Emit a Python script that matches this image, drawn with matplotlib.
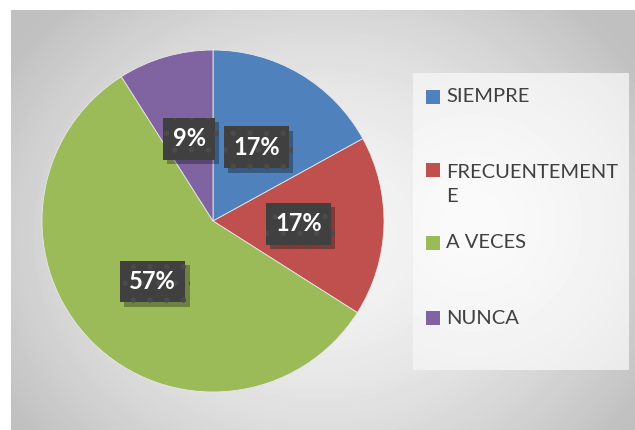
import numpy as np
import matplotlib
matplotlib.use('Agg')
from matplotlib import pyplot as plt
from matplotlib import patheffects as pe
from matplotlib.patches import Rectangle

# data
labels = ['SIEMPRE', 'FRECUENTEMENT\nE', 'A VECES', 'NUNCA']
values = [17, 17, 57, 9]
colors = ['#4F81BD', '#C0504D', '#9BBB59', '#8064A2']

W, H = 635, 430
fig = plt.figure(figsize=(W / 100, H / 100), dpi=100)
fig.patch.set_facecolor('white')

# gray panel with radial gradient
px0, py0 = 11, 10
pw, ph = W - px0, H - py0
yy, xx = np.mgrid[0:ph, 0:pw]
d = np.sqrt(((xx - 310) / 360.0) ** 2 + ((yy - 225) / 300.0) ** 2)
img = np.clip(246 - 50 * d ** 1.6, 192, 246)
bg = fig.add_axes([px0 / W, 0, pw / W, ph / H], zorder=0)
bg.imshow(img, cmap='gray', vmin=0, vmax=255, aspect='auto', interpolation='bilinear')
bg.axis('off')

# legend box
lx0, ly0, lx1, ly1 = 413, 73, 629, 370
ly, lx = np.mgrid[0:ly1 - ly0, 0:lx1 - lx0]
ld = np.sqrt(((lx - 60) / 260.0) ** 2 + ((ly - 150) / 260.0) ** 2)
limg = np.clip(250 - 22 * ld ** 1.5, 226, 250)
lax = fig.add_axes([lx0 / W, (H - ly1) / H, (lx1 - lx0) / W, (ly1 - ly0) / H], zorder=1)
lax.imshow(limg, cmap='gray', vmin=0, vmax=255, aspect='auto', interpolation='bilinear')
lax.axis('off')

# pie
cx, cy, r = 213, 221, 171
ax = fig.add_axes([(cx - r) / W, (H - cy - r) / H, 2 * r / W, 2 * r / H], zorder=2)
wedges, texts, autotexts = ax.pie(
    values, colors=colors, startangle=90, counterclock=False,
    autopct=lambda p: '{:.0f}%'.format(p), pctdistance=0.5, radius=1,
    wedgeprops=dict(linewidth=0.6, edgecolor='#e8e8e8'))
ax.set_xlim(-1, 1)
ax.set_ylim(-1, 1)
ax.set_aspect('equal')
ax.axis('off')

plt.rcParams['hatch.linewidth'] = 1.5
for t in autotexts:
    t.set_fontfamily('Lato')
    t.set_fontweight('bold')
    t.set_fontsize(17)
    t.set_color('white')
    t.set_bbox(dict(boxstyle='square,pad=0.4', facecolor='#404040',
                    edgecolor='#4b4b4b', linewidth=0, hatch='.'))
    t.get_bbox_patch().set_path_effects(
        [pe.SimplePatchShadow(offset=(3, -3), shadow_rgbFace='black', alpha=0.3),
         pe.Normal()])

# legend entries
leg_y = [97, 184.5, 243, 318]
sq_y = [97, 170, 243, 318]
for lab, col, y, sy in zip(labels, colors, leg_y, sq_y):
    fig.patches.append(Rectangle((426 / W, (H - sy - 7) / H), 14 / W, 14 / H,
                                 transform=fig.transFigure, facecolor=col,
                                 edgecolor='none', zorder=3))
    fig.text(446 / W, (H - y) / H, lab, fontfamily='Lato', fontsize=14.5,
             color='#404040', va='center', linespacing=1.45, zorder=4)

fig.savefig('out.png', dpi=100)
